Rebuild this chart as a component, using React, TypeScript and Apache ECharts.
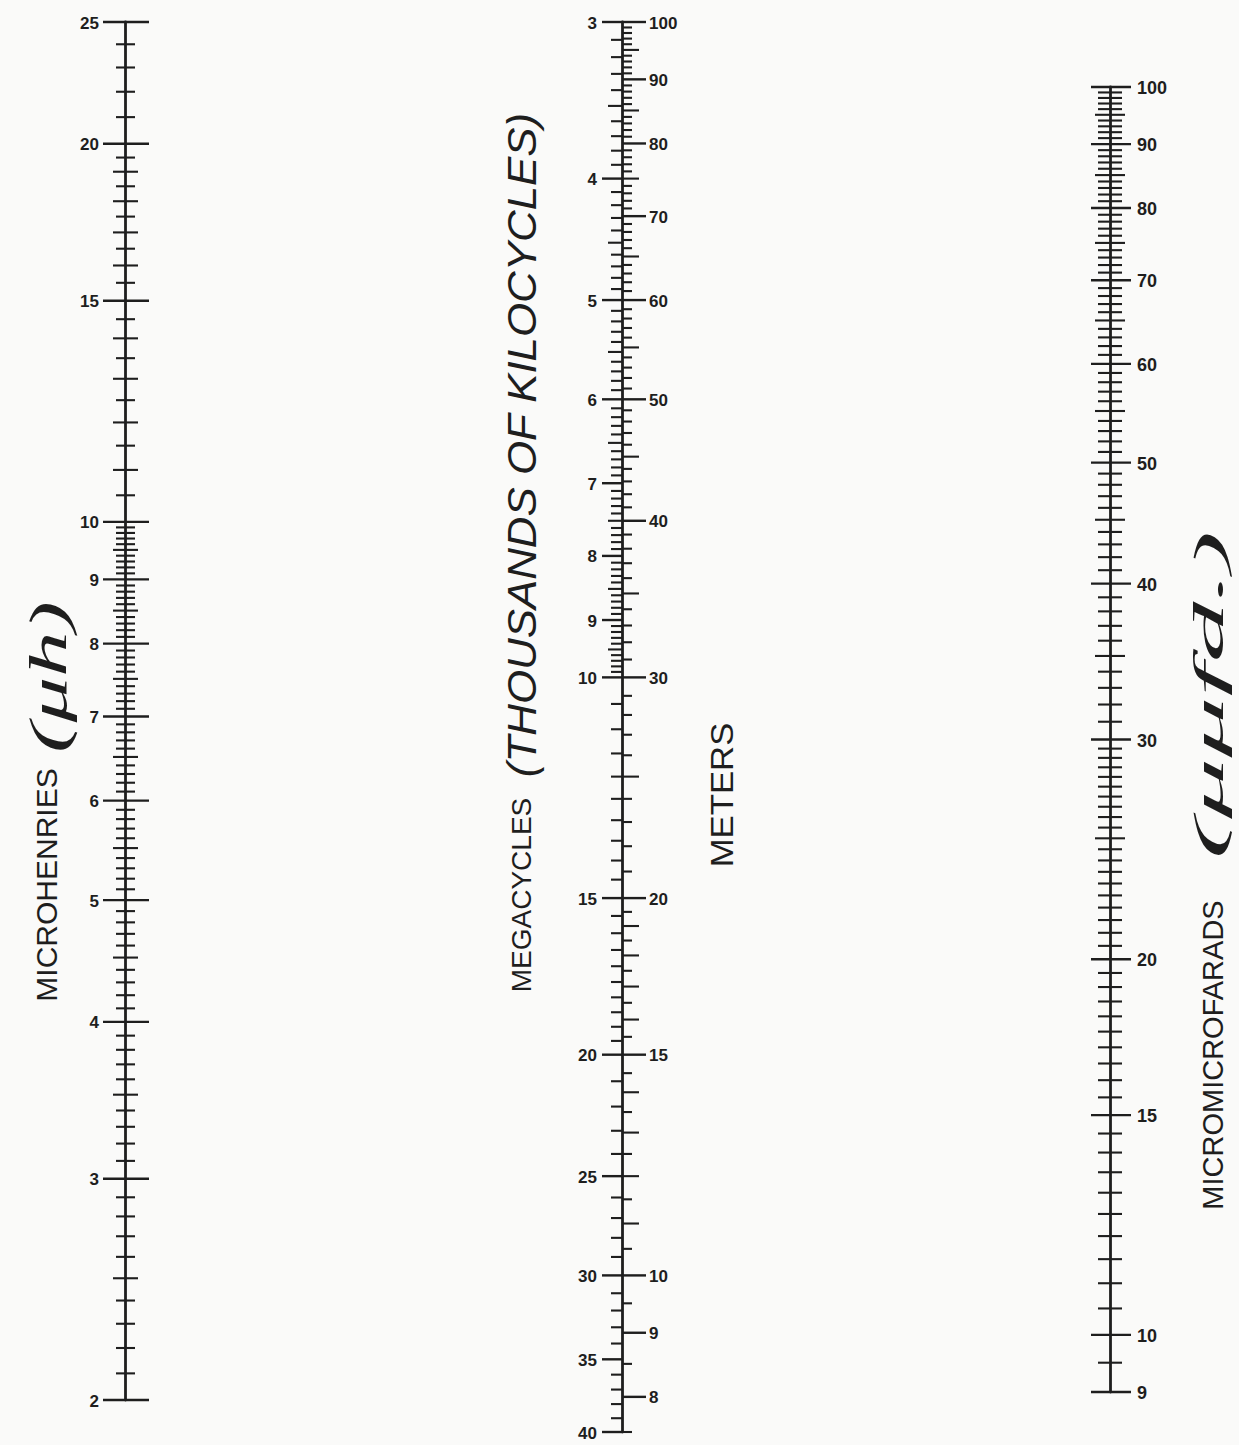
import React, { useEffect, useRef } from "react";
import * as echarts from "echarts";

// ---------- DATA ----------
// Left scale: microhenries (log)
const henryLabelValues = [2, 3, 4, 5, 6, 7, 8, 9, 10, 15, 20, 25];
const henryLabelTexts = ["2", "3", "4", "5", "6", "7", "8", "9", "10", "15", "20", "25"];
// [from, to, step, medium-every]
const henryTickRanges: number[][] = [
  [2, 10, 0.1, 0.5],
  [10, 20, 0.5, 1],
  [20, 25, 1, 5],
];

// Middle scale, left side: megacycles (log, inverted)
const mcLabelValues = [3, 4, 5, 6, 7, 8, 9, 10, 15, 20, 25, 30, 35, 40];
const mcLabelTexts = ["3", "4", "5", "6", "7", "8", "9", "10", "15", "20", "25", "30", "35", "40"];
const mcTickRanges: number[][] = [
  [3, 10, 0.1, 0.5],
  [10, 20, 0.5, 5],
  [20, 40, 1, 5],
];

// Middle scale, right side: meters (log)
const meterLabelValues = [8, 9, 10, 15, 20, 30, 40, 50, 60, 70, 80, 90, 100];
const meterLabelTexts = ["8", "9", "10", "15", "20", "30", "40", "50", "60", "70", "80", "90", "100"];
const meterTickRanges: number[][] = [
  [7.5, 20, 0.5, 1],
  [20, 100, 1, 5],
];

// Right scale: micromicrofarads (log)
const pfLabelValues = [9, 10, 15, 20, 30, 40, 50, 60, 70, 80, 90, 100];
const pfLabelTexts = ["9", "10", "15", "20", "30", "40", "50", "60", "70", "80", "90", "100"];
const pfTickRanges: number[][] = [
  [9, 30, 0.5, 5],
  [30, 100, 1, 5],
];

// ---------- STYLE ----------
const INK = "#1e1e1e";
const BG = "#fafaf9";
const SANS = "'Liberation Sans', Arial, sans-serif";
const SERIF = "'Liberation Serif', 'DejaVu Serif', serif";

function buildTicks(ranges: number[][], labelVals: number[]) {
  const out: number[][] = [];
  const seen = new Set<string>();
  for (const [from, to, step, mid] of ranges) {
    const n = Math.round((to - from) / step);
    for (let i = 0; i <= n; i++) {
      const v = +(from + i * step).toFixed(4);
      const key = v.toFixed(4);
      if (seen.has(key)) continue;
      seen.add(key);
      const isMajor = labelVals.some((l) => Math.abs(l - v) < 1e-6);
      const r = v / mid;
      const isMid = Math.abs(r - Math.round(r)) < 1e-6;
      out.push([0, v, isMajor ? 2 : isMid ? 1 : 0]);
    }
  }
  return out;
}

function tickSeries(axisIdx: number, yIdx: number, data: number[][], lens: number[][]) {
  return {
    type: "custom",
    xAxisIndex: axisIdx,
    yAxisIndex: yIdx,
    silent: true,
    clip: false,
    data,
    encode: { x: 0, y: 1 },
    renderItem: (_p: any, api: any) => {
      const pt = api.coord([api.value(0), api.value(1)]);
      const k = api.value(2);
      const [l, r] = lens[k];
      return {
        type: "line",
        shape: { x1: pt[0] + l, y1: pt[1], x2: pt[0] + r, y2: pt[1] },
        style: { stroke: INK, lineWidth: k === 2 ? 2.4 : 2.1 },
      };
    },
  };
}

function labelSeries(
  axisIdx: number,
  yIdx: number,
  values: number[],
  texts: string[],
  dx: number,
  align: string,
  size: number
) {
  return {
    type: "custom",
    xAxisIndex: axisIdx,
    yAxisIndex: yIdx,
    silent: true,
    clip: false,
    data: values.map((v) => [0, v]),
    encode: { x: 0, y: 1 },
    renderItem: (p: any, api: any) => {
      const pt = api.coord([api.value(0), api.value(1)]);
      return {
        type: "text",
        x: pt[0] + dx,
        y: pt[1] + 1,
        style: {
          text: texts[p.dataIndex],
          align,
          verticalAlign: "middle",
          textAlign: align,
          textVerticalAlign: "middle",
          fontSize: size,
          fontWeight: "bold",
          fontFamily: SANS,
          fill: INK,
        },
      };
    },
  };
}

function rotText(
  x: number,
  y: number,
  text: string,
  size: number,
  fontStyle: string,
  family: string,
  scaleX = 1
) {
  return {
    type: "text",
    x,
    y,
    rotation: Math.PI / 2,
    scaleX,
    silent: true,
    style: {
      text,
      fontSize: size,
      fontStyle,
      fontFamily: family,
      fill: INK,
      align: "center",
      verticalAlign: "middle",
      textAlign: "center",
      textVerticalAlign: "middle",
    },
  };
}

const baseY = {
  type: "log",
  logBase: 10,
  axisLine: { show: true, onZero: false, lineStyle: { color: INK, width: 2.8 } },
  axisTick: { show: false },
  axisLabel: { show: false },
  splitLine: { show: false },
  minorTick: { show: false },
  minorSplitLine: { show: false },
};

export default function App() {
  const ref = useRef<HTMLDivElement>(null);
  useEffect(() => {
    if (!ref.current) return;
    const chart = echarts.init(ref.current, undefined, { renderer: "svg" });

    const henryTicks = buildTicks(henryTickRanges, henryLabelValues);
    const mcTicks = buildTicks(mcTickRanges, mcLabelValues);
    const meterTicks = buildTicks(meterTickRanges, meterLabelValues);
    const pfTicks = buildTicks(pfTickRanges, pfLabelValues);

    const option: any = {
      animation: false,
      backgroundColor: BG,
      grid: [
        { left: 125, top: 22, width: 1, height: 1378 },
        { left: 622, top: 22, width: 1, height: 1410 },
        { left: 1110, top: 87, width: 1, height: 1305 },
      ],
      xAxis: [0, 1, 2].map((g) => ({ type: "value", gridIndex: g, min: 0, max: 1, show: false })),
      yAxis: [
        { ...baseY, gridIndex: 0, min: 2, max: 25 },
        { ...baseY, gridIndex: 1, min: 3, max: 40, inverse: true },
        { ...baseY, gridIndex: 1, min: 7.5, max: 100, show: false, position: "right" },
        { ...baseY, gridIndex: 2, min: 9, max: 100 },
      ],
      series: [
        tickSeries(0, 0, henryTicks, [[-9, 10], [-12, 13], [-22, 24]]),
        labelSeries(0, 0, henryLabelValues, henryLabelTexts, -26, "right", 17),
        tickSeries(1, 1, mcTicks, [[-11, 0], [-14, 0], [-20, 0]]),
        labelSeries(1, 1, mcLabelValues, mcLabelTexts, -25, "right", 17),
        tickSeries(1, 2, meterTicks, [[0, 10], [0, 17], [0, 24]]),
        labelSeries(1, 2, meterLabelValues, meterLabelTexts, 27, "left", 17),
        tickSeries(2, 3, pfTicks, [[-12, 12], [-15, 15], [-19, 21]]),
        labelSeries(2, 3, pfLabelValues, pfLabelTexts, 27, "left", 18),
      ],
      graphic: [
        rotText(46, 885, "MICROHENRIES", 30, "normal", SANS),
        rotText(48, 677, "(μh)", 52, "italic", SERIF, 1.75),
        rotText(521, 895, "MEGACYCLES", 28, "normal", SANS),
        rotText(522, 445, "(THOUSANDS OF KILOCYCLES)", 41, "italic", SANS, 1.07),
        rotText(722, 795, "METERS", 31, "normal", SANS, 1.12),
        rotText(1213, 1055, "MICROMICROFARADS", 29, "normal", SANS),
        rotText(1209, 695, "(μμfd.)", 42, "italic", SERIF, 2.9),
      ],
    };
    chart.setOption(option);
    return () => chart.dispose();
  }, []);
  return (
    <div
      ref={ref}
      style={{ position: "absolute", left: 0, top: 0, width: 1239, height: 1445 }}
    />
  );
}
